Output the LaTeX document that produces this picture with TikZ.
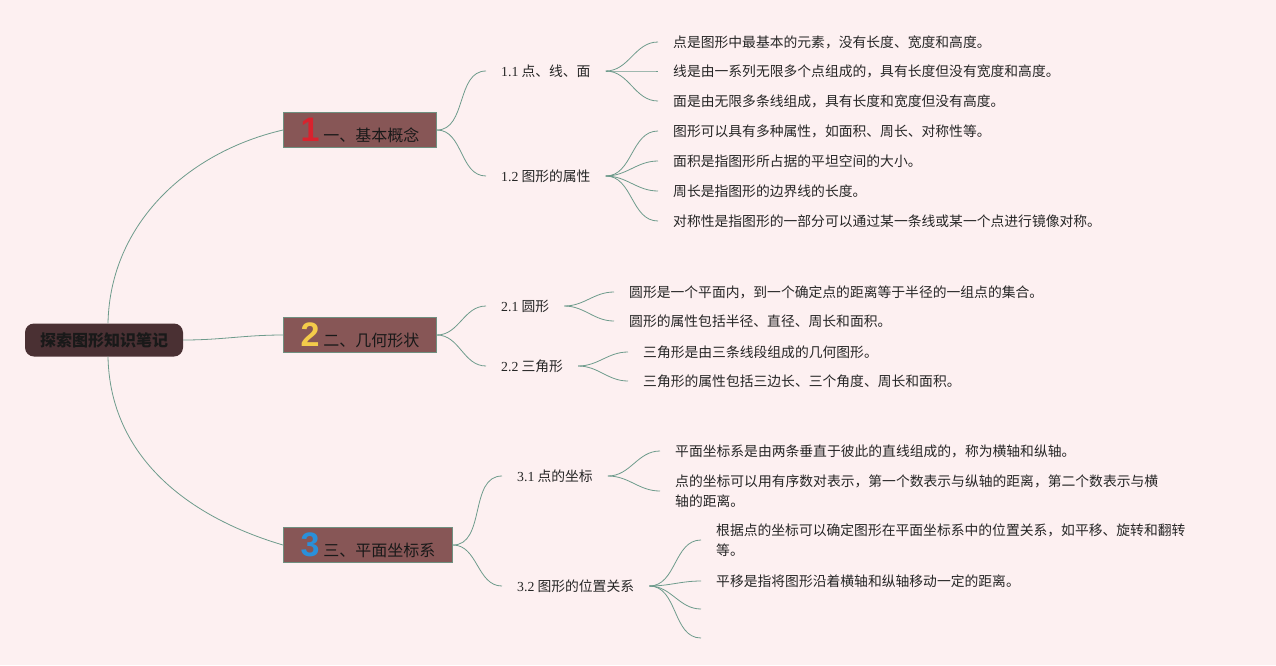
\documentclass[tikz,border=0pt]{standalone}
\usepackage{fontspec}
\setmainfont{Liberation Serif}
\newfontfamily\cjk{Noto Sans CJK SC}
\newfontfamily\numfont{Liberation Sans}
\usepackage{xcolor}
\usepackage{tikz}
\usetikzlibrary{positioning}
\definecolor{bgpink}{HTML}{FDF0F1}
\definecolor{rootfill}{HTML}{4A3033}
\definecolor{branchfill}{HTML}{875656}
\definecolor{branchdraw}{HTML}{6F9080}
\definecolor{linkcol}{HTML}{6E9B8C}
\definecolor{numred}{HTML}{D8232E}
\definecolor{numyellow}{HTML}{F4CB4A}
\definecolor{numblue}{HTML}{2A90DA}
\newcommand\bnum[2]{{\numfont\bfseries\fontsize{34}{34}\selectfont\color{#1}#2}\hspace{4pt}}

\begin{document}
\begin{tikzpicture}[x=1pt,y=-1pt]
	\tikzstyle{root}=[rectangle,rounded corners=9pt,fill=rootfill,minimum width=158pt,minimum height=33pt,font=\cjk\bfseries\fontsize{16}{16}\selectfont,text=black!90]
	\tikzstyle{branch}=[rectangle,anchor=west,fill=branchfill,draw=branchdraw,line width=1pt,minimum height=35pt,inner xsep=17pt,inner ysep=0pt,font=\cjk\fontsize{16}{16}\selectfont,text=black!90]
	\tikzstyle{sub}=[anchor=west,inner xsep=15pt,font=\cjk\fontsize{13.8}{20}\selectfont,text=black!85]
	\tikzstyle{leaf}=[anchor=west,inner xsep=15pt,align=left,font=\cjk\fontsize{13.8}{20}\selectfont,text=black!85]
	\tikzstyle{link}=[draw=linkcol,line width=0.8pt]
	\useasboundingbox (0,0) rectangle (1276,665);
	\fill[bgpink] (0,0) rectangle (1276,665);
	\node[root](r) at (104,340) {探索图形知识笔记};
	\node[branch](b1) at (283,130) {\bnum{numred}{1}一、基本概念};
	\node[branch](b2) at (283,335) {\bnum{numyellow}{2}二、几何形状};
	\node[branch](b3) at (283,545) {\bnum{numblue}{3}三、平面坐标系};
	\node[sub](s11) at (486,71) {{\rmfamily 1.1} 点、线、面};
	\node[sub](s12) at (486,176) {{\rmfamily 1.2} 图形的属性};
	\node[sub](s21) at (486,306) {{\rmfamily 2.1} 圆形};
	\node[sub](s22) at (486,366) {{\rmfamily 2.2} 三角形};
	\node[sub](s31) at (502,476) {{\rmfamily 3.1} 点的坐标};
	\node[sub](s32) at (502,586) {{\rmfamily 3.2} 图形的位置关系};
	\node[leaf](l11a) at (658,42) {点是图形中最基本的元素，没有长度、宽度和高度。};
	\node[leaf](l11b) at (658,71) {线是由一系列无限多个点组成的，具有长度但没有宽度和高度。};
	\node[leaf](l11c) at (658,101) {面是由无限多条线组成，具有长度和宽度但没有高度。};
	\node[leaf](l12a) at (658,131) {图形可以具有多种属性，如面积、周长、对称性等。};
	\node[leaf](l12b) at (658,161) {面积是指图形所占据的平坦空间的大小。};
	\node[leaf](l12c) at (658,191) {周长是指图形的边界线的长度。};
	\node[leaf](l12d) at (658,221) {对称性是指图形的一部分可以通过某一条线或某一个点进行镜像对称。};
	\node[leaf](l21a) at (614,292) {圆形是一个平面内，到一个确定点的距离等于半径的一组点的集合。};
	\node[leaf](l21b) at (614,321) {圆形的属性包括半径、直径、周长和面积。};
	\node[leaf](l22a) at (628,352) {三角形是由三条线段组成的几何图形。};
	\node[leaf](l22b) at (628,381) {三角形的属性包括三边长、三个角度、周长和面积。};
	\node[leaf](l31a) at (660,451) {平面坐标系是由两条垂直于彼此的直线组成的，称为横轴和纵轴。};
	\node[leaf](l31b) at (660,491) {点的坐标可以用有序数对表示，第一个数表示与纵轴的距离，第二个数表示与横\\轴的距离。};
	\node[leaf](l32a) at (701,540) {根据点的坐标可以确定图形在平面坐标系中的位置关系，如平移、旋转和翻转\\等。};
	\node[leaf](l32b) at (701,581) {平移是指将图形沿着横轴和纵轴移动一定的距离。};
	\coordinate(l32c) at (701,609);
	\coordinate(l32d) at (701,638);
	\draw[link]([xshift=4pt]r.north) .. controls +(2,-100) and +(-95,22) .. (b1.west);
	\draw[link](r.east) to[out=0,in=180] (b2.west);
	\draw[link]([xshift=4pt]r.south) .. controls +(2,100) and +(-95,-28) .. (b3.west);
	\draw[link](b1.east) to[out=0,in=180] (s11.west);
	\draw[link](b1.east) to[out=0,in=180] (s12.west);
	\draw[link](b2.east) to[out=0,in=180] (s21.west);
	\draw[link](b2.east) to[out=0,in=180] (s22.west);
	\draw[link](b3.east) to[out=0,in=180] (s31.west);
	\draw[link](b3.east) to[out=0,in=180] (s32.west);
	\draw[link](s11.east) to[out=0,in=180] (l11a.west);
	\draw[link](s11.east) to[out=0,in=180] (l11b.west);
	\draw[link](s11.east) to[out=0,in=180] (l11c.west);
	\draw[link](s12.east) to[out=0,in=180] (l12a.west);
	\draw[link](s12.east) to[out=0,in=180] (l12b.west);
	\draw[link](s12.east) to[out=0,in=180] (l12c.west);
	\draw[link](s12.east) to[out=0,in=180] (l12d.west);
	\draw[link](s21.east) to[out=0,in=180] (l21a.west);
	\draw[link](s21.east) to[out=0,in=180] (l21b.west);
	\draw[link](s22.east) to[out=0,in=180] (l22a.west);
	\draw[link](s22.east) to[out=0,in=180] (l22b.west);
	\draw[link](s31.east) to[out=0,in=180] (l31a.west);
	\draw[link](s31.east) to[out=0,in=180] (l31b.west);
	\draw[link](s32.east) to[out=0,in=180] (l32a.west);
	\draw[link](s32.east) to[out=0,in=180] (l32b.west);
	\draw[link](s32.east) to[out=0,in=180] (l32c);
	\draw[link](s32.east) to[out=0,in=180] (l32d);
\end{tikzpicture}
\end{document}
